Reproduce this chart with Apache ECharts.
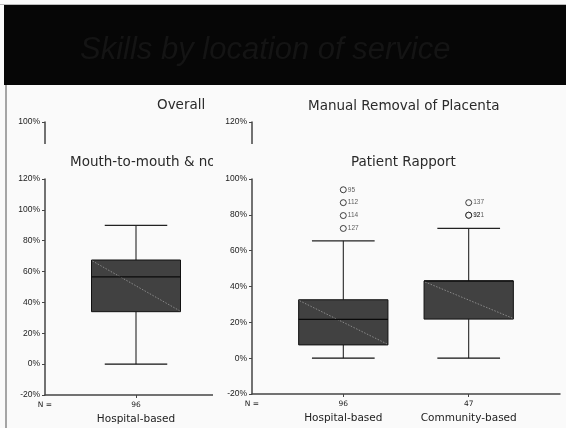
<!DOCTYPE html>
<html><head><meta charset="utf-8">
<script src="https://cdn.jsdelivr.net/npm/echarts@6/dist/echarts.min.js"></script>
<style>
html,body{margin:0;padding:0;background:#fafafa;}
#wrap{position:relative;width:566px;height:428px;overflow:hidden;}
.p{position:absolute;}
</style></head>
<body><div id="wrap">
<div id="bg" class="p" style="left:0;top:0;width:566px;height:428px"></div>
<div id="overall" class="p" style="left:8px;top:88px;width:360px;height:340px"></div>
<div id="manual" class="p" style="left:213px;top:88px;width:353px;height:340px"></div>
<div id="mouth" class="p" style="left:8px;top:144px;width:360px;height:284px"></div>
<div id="rapport" class="p" style="left:213px;top:144px;width:353px;height:284px"></div>
</div>
<script>
// ---- data ----
const slideTitle = 'Skills by location of service';
const panelTitles = ['Overall', 'Manual Removal of Placenta', 'Mouth-to-mouth & nose', 'Patient Rapport'];
const mouthCategories = ['Hospital-based'];
const mouthN = [96];
// [min, Q1, median, Q3, max] in %
const mouthStats = [[0, 34, 56.6, 67.5, 90]];
const rapportCategories = ['Hospital-based', 'Community-based'];
const rapportN = [96, 47];
const rapportStats = [[0, 7.4, 21.7, 32.6, 65.5], [0, 21.8, 43.1, 43.1, 72.4]];
// outliers: [category index, value, case label]
const rapportOutlierCat = [0, 0, 0, 0, 1, 1, 1];
const rapportOutlierVal = [94, 86.8, 79.6, 72.4, 86.8, 79.8, 79.8];
const rapportOutlierLab = ['95', '112', '114', '127', '137', '92', '121'];

const FONT = 'Liberation Sans';
const SANS = 'DejaVu Sans';
const XMIN = -0.728, XMAX = 0.728;

function renderBox(params, api) {
  const x = api.value(0);
  const unit = api.size([1, 0])[0];
  const bw = unit * 0.712, cw = unit * 0.5;
  const c = api.coord([x, api.value(1)]);
  const cx = c[0];
  const yMin = c[1];
  const yQ1 = api.coord([x, api.value(2)])[1];
  const yMed = api.coord([x, api.value(3)])[1];
  const yQ3 = api.coord([x, api.value(4)])[1];
  const yMax = api.coord([x, api.value(5)])[1];
  const L = cx - bw / 2, R = cx + bw / 2;
  const ln = (x1, y1, x2, y2, stroke, w, dash) => ({
    type: 'line', shape: {x1, y1, x2, y2},
    style: {stroke, lineWidth: w, lineDash: dash || null}
  });
  return {type: 'group', children: [
    ln(cx, yMax, cx, yQ3, '#111', 1),
    ln(cx, yQ1, cx, yMin, '#111', 1),
    ln(cx - cw / 2, yMax, cx + cw / 2, yMax, '#222', 1.3),
    ln(cx - cw / 2, yMin, cx + cw / 2, yMin, '#111', 1.3),
    {type: 'rect', shape: {x: L, y: yQ3, width: bw, height: yQ1 - yQ3},
     style: {fill: '#414141', stroke: '#111', lineWidth: 1}},
    ln(L + 1, yQ3 + 1, R - 1, yQ1 - 1, '#9a9a9a', 0.8, [1.5, 1.5]),
    ln(L, yMed, R, yMed, '#0a0a0a', 1.2)
  ]};
}

function yAxisCfg(min, max) {
  return {
    type: 'value', min, max, interval: 20,
    axisLine: {show: true, onZero: false, lineStyle: {color: '#444', width: 1.5}},
    axisTick: {show: true, length: 3, lineStyle: {color: '#444'}},
    splitLine: {show: false},
    axisLabel: {formatter: '{value}%', fontFamily: FONT, fontSize: 8.5, color: '#222', margin: 5}
  };
}
function xAxisCfg(n, cats, show) {
  const idx = cats.map((_, i) => i);
  return {
    type: 'value', min: XMIN, max: XMAX + (cats.length - 1), show: show,
    axisLine: {show: true, onZero: false, lineStyle: {color: '#444', width: 1.5}},
    axisTick: {show: true, length: 3, customValues: idx, lineStyle: {color: '#444'}},
    splitLine: {show: false},
    axisLabel: {
      customValues: [XMIN].concat(idx), margin: 4,
      formatter: function (v) {
        if (Math.abs(v - XMIN) < 1e-6) return '{n|N =}';
        const i = Math.round(v);
        return '{n|' + n[i] + '}\n{c|' + cats[i] + '}';
      },
      rich: {
        n: {fontFamily: SANS, fontSize: 7.5, color: '#222', lineHeight: 12},
        c: {fontFamily: SANS, fontSize: 10.5, color: '#222', lineHeight: 17}
      }
    }
  };
}
function titleCfg(text, left, top) {
  return {text, left, top, padding: 0,
    textStyle: {fontFamily: SANS, fontSize: 13.5, fontWeight: 'normal', color: '#2a2a2a'}};
}

// background slide
echarts.init(document.getElementById('bg')).setOption({
  backgroundColor: '#fafafa',
  animation: false,
  title: {text: slideTitle, left: 80, top: 35, padding: 0,
    textStyle: {fontFamily: FONT, fontStyle: 'italic', fontWeight: 'normal', fontSize: 31, color: '#141414'}},
  graphic: [
    {type: 'rect', z: 0, shape: {x: 4, y: 5, width: 562, height: 80}, style: {fill: '#060606'}},
    {type: 'line', z: 0, shape: {x1: 0, y1: 4.5, x2: 566, y2: 4.5}, style: {stroke: '#bbb', lineWidth: 1}},
    {type: 'line', z: 0, shape: {x1: 6, y1: 85, x2: 6, y2: 428}, style: {stroke: '#888', lineWidth: 1.5}}
  ]
});

// Overall (mostly hidden)
echarts.init(document.getElementById('overall')).setOption({
  backgroundColor: '#fafafa', animation: false,
  title: titleCfg(panelTitles[0], 149, 10),
  grid: {left: 37, top: 34, width: 182, height: 185},
  xAxis: xAxisCfg(mouthN, mouthCategories, false),
  yAxis: yAxisCfg(-20, 100),
  series: []
});
// Manual Removal of Placenta (mostly hidden)
echarts.init(document.getElementById('manual')).setOption({
  backgroundColor: '#fafafa', animation: false,
  title: titleCfg(panelTitles[1], 95, 11),
  grid: {left: 39, top: 34, width: 308, height: 216},
  xAxis: xAxisCfg(rapportN, rapportCategories, false),
  yAxis: yAxisCfg(-20, 120),
  series: []
});
// Mouth-to-mouth
echarts.init(document.getElementById('mouth')).setOption({
  backgroundColor: '#fafafa', animation: false,
  title: titleCfg(panelTitles[2], 62, 11),
  grid: {left: 37, top: 35, width: 182, height: 216},
  xAxis: xAxisCfg(mouthN, mouthCategories, true),
  yAxis: yAxisCfg(-20, 120),
  series: [{
    type: 'custom', renderItem: renderBox,
    encode: {x: 0, y: [1, 2, 3, 4, 5]},
    data: mouthStats.map((s, i) => [i].concat(s))
  }]
});
// Patient Rapport
echarts.init(document.getElementById('rapport')).setOption({
  backgroundColor: '#fafafa', animation: false,
  title: titleCfg(panelTitles[3], 138, 11),
  grid: {left: 39, top: 35, width: 308, height: 215},
  xAxis: xAxisCfg(rapportN, rapportCategories, true),
  yAxis: yAxisCfg(-20, 100),
  series: [{
    type: 'custom', renderItem: renderBox,
    encode: {x: 0, y: [1, 2, 3, 4, 5]},
    data: rapportStats.map((s, i) => [i].concat(s))
  }, {
    type: 'scatter', symbol: 'circle', symbolSize: 6,
    itemStyle: {color: '#fafafa', borderColor: '#111', borderWidth: 1},
    label: {show: true, position: 'right', distance: 1,
      formatter: p => rapportOutlierLab[p.dataIndex],
      fontFamily: FONT, fontSize: 6.5, color: '#333'},
    labelLayout: {hideOverlap: false},
    data: rapportOutlierVal.map((v, i) => [rapportOutlierCat[i], v])
  }]
});
</script>
</body></html>
